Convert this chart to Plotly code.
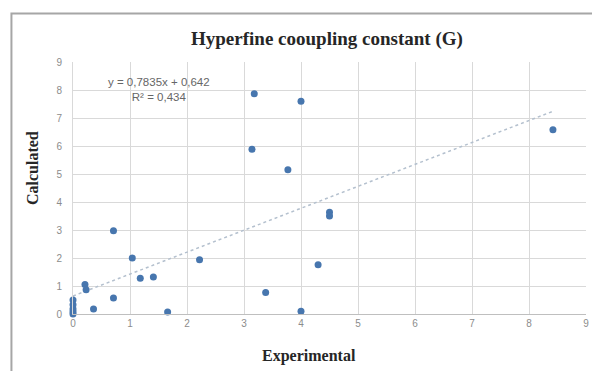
import plotly.graph_objects as go

experimental = [0, 0, 0, 0, 0, 0.21, 0.23, 0.36, 0.71, 0.71, 1.04, 1.18, 1.41, 1.66,
                2.22, 3.14, 3.18, 3.38, 3.77, 4.0, 4.0, 4.30, 4.5, 4.5, 8.42]
calculated = [0, 0.08, 0.18, 0.33, 0.5, 1.05, 0.87, 0.18, 2.97, 0.57, 2.0, 1.28, 1.32, 0.07,
              1.94, 5.88, 7.87, 0.77, 5.15, 7.6, 0.1, 1.76, 3.63, 3.5, 6.58]

slope = 0.7835
intercept = 0.642
r2 = 0.434
trend_x = [min(experimental), max(experimental)]
trend_y = [slope * v + intercept for v in trend_x]

axis_ticks = list(range(0, 10))

title_font = dict(family="Liberation Serif", size=16, color="#262626")

fig = go.Figure()
fig.add_trace(go.Scatter(x=trend_x, y=trend_y, mode="lines",
                         line=dict(color="#b4c0ce", width=1.5, dash="dot"),
                         hoverinfo="skip", showlegend=False, cliponaxis=False))
fig.add_trace(go.Scatter(x=experimental, y=calculated, mode="markers",
                         marker=dict(color="#4776ae", size=7),
                         showlegend=False, cliponaxis=False))

fig.add_annotation(x=0.168, y=0.89, xref="paper", yref="paper", showarrow=False,
                   xanchor="center", yanchor="middle",
                   text="y = 0,7835x + 0,642<br>R² = 0,434", align="center",
                   font=dict(family="Liberation Sans", size=11.5, color="#666666"))

fig.add_annotation(x=0.46, y=-0.165, xref="paper", yref="paper", showarrow=False,
                   xanchor="center", yanchor="middle",
                   text="<b>Experimental</b>", font=title_font)
fig.add_annotation(x=-0.08, y=0.579, xref="paper", yref="paper", showarrow=False,
                   xanchor="center", yanchor="middle",
                   text="<b>Calculated</b>", textangle=-90, font=title_font)

fig.add_shape(type="rect", xref="paper", yref="paper",
              x0=-0.12, x1=1.2, y0=-0.4, y1=1.192,
              line=dict(color="#a6a6a6", width=2), layer="below")

fig.update_layout(
    width=592, height=363,
    margin=dict(l=65, r=14, t=54, b=57, autoexpand=False),
    paper_bgcolor="white", plot_bgcolor="white",
    title=dict(text="<b>Hyperfine cooupling constant (G)</b>", x=0.495, xanchor="center",
               y=0.917, yanchor="middle", xref="paper", yref="container",
               font=dict(family="Liberation Serif", size=19, color="#262626")),
    xaxis=dict(range=[0, 9], tickvals=axis_ticks, showgrid=True, gridcolor="#d9d9d9",
               zeroline=False, showline=True, linecolor="#bfbfbf", ticks="",
               automargin=False,
               tickfont=dict(family="Liberation Sans", size=10, color="#8c8c8c")),
    yaxis=dict(range=[0, 9], tickvals=axis_ticks, showgrid=True, gridcolor="#d9d9d9",
               zeroline=False, showline=True, linecolor="#d9d9d9", ticks="",
               automargin=False, ticklabelstandoff=8,
               tickfont=dict(family="Liberation Sans", size=10, color="#8c8c8c")),
)

fig.write_html("out.html")
